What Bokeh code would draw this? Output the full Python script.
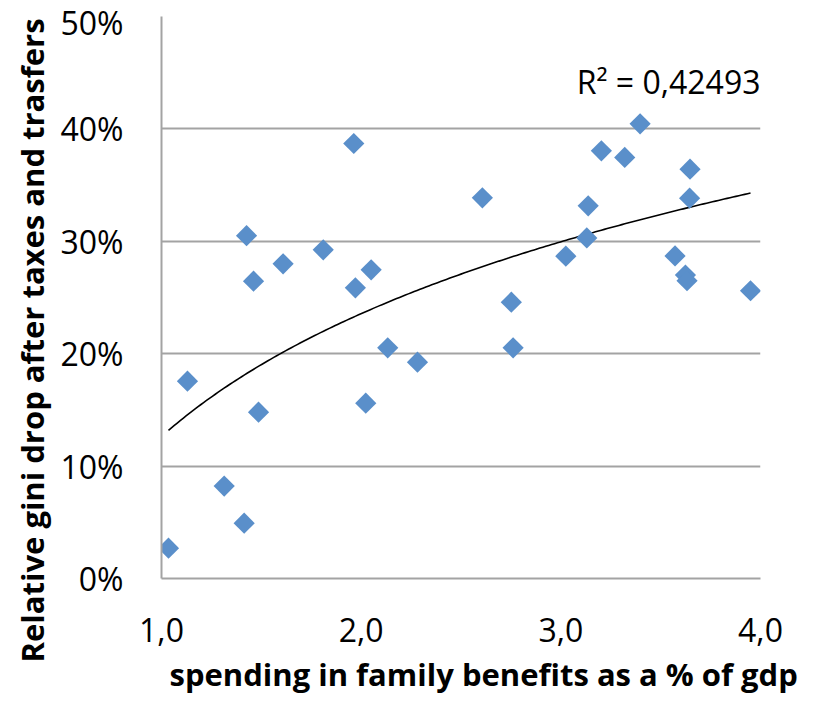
import numpy as np
from bokeh.plotting import figure
from bokeh.models import Range1d, FixedTicker, CustomJSTickFormatter, Label, Title
from bokeh.embed import file_html
from bokeh.resources import INLINE

# data: spending in family benefits (% of GDP) vs relative gini drop
spending = [1.035, 1.13, 1.314, 1.414, 1.426, 1.461, 1.486, 1.609, 1.81, 1.963,
            1.971, 2.023, 2.05, 2.133, 2.282, 2.607, 2.752, 2.761, 3.025, 3.13,
            3.137, 3.203, 3.32, 3.397, 3.572, 3.624, 3.632, 3.645, 3.647, 3.95]
gini_drop = [0.027, 0.1756, 0.0822, 0.0492, 0.305, 0.2645, 0.148, 0.280, 0.2924, 0.387,
             0.2586, 0.156, 0.2746, 0.2052, 0.1925, 0.3387, 0.2458, 0.2052, 0.2868, 0.303,
             0.3316, 0.3805, 0.3746, 0.4045, 0.287, 0.270, 0.2649, 0.3384, 0.3642, 0.256]
x_ticks = [1, 2, 3, 4]
y_ticks = [0, 0.1, 0.2, 0.3, 0.4, 0.5]
r2_text = "R² = 0,42493"
x_title = "spending in family benefits as a % of gdp"
y_title = "Relative gini drop after taxes and trasfers"

FONT = "Open Sans"
GRID = "#a3a3a3"

p = figure(width=817, height=702, output_backend="svg", toolbar_location=None,
           x_range=Range1d(1, 4), y_range=Range1d(0, 0.5),
           min_border_left=161, min_border_right=57, min_border_top=16,
           min_border_bottom=124)
p.outline_line_color = None
p.background_fill_color = "white"

for ax in (p.xaxis[0], p.yaxis[0]):
    ax.axis_line_color = GRID
    ax.axis_line_width = 2
    ax.major_tick_in = 0
    ax.major_tick_out = 0
    ax.minor_tick_in = 0
    ax.minor_tick_out = 0
    ax.major_label_text_font = FONT
    ax.major_label_text_font_size = "32px"
    ax.major_label_text_color = "black"

p.xaxis[0].ticker = FixedTicker(ticks=x_ticks)
p.xaxis[0].formatter = CustomJSTickFormatter(code="return tick.toFixed(1).replace('.', ',');")
p.xaxis[0].major_label_standoff = 39
p.yaxis[0].ticker = FixedTicker(ticks=y_ticks)
p.yaxis[0].formatter = CustomJSTickFormatter(code="return Math.round(tick*100) + '%';")
p.yaxis[0].major_label_standoff = 38

p.xgrid.visible = False
p.ygrid[0].ticker = FixedTicker(ticks=y_ticks)
p.ygrid.grid_line_color = GRID
p.ygrid.grid_line_width = 2

# logarithmic trend line fitted to the data
lx = np.log(np.array(spending))
a, b = np.polyfit(lx, np.array(gini_drop), 1)
xs = np.linspace(min(spending), max(spending), 200)
p.line(xs, a * np.log(xs) + b, line_color="black", line_width=1.6)

p.scatter(spending, gini_drop, marker="square", angle=np.pi / 4, size=15,
          fill_color="#5a8fca", line_color=None)

p.add_layout(Label(x=4.0, y=0.4422, text=r2_text, text_align="right",
                   text_baseline="alphabetic", text_font=FONT,
                   text_font_size="32px", text_color="black"))

p.add_layout(Title(text=x_title, align="left", offset=8, standoff=13,
                   text_font=FONT, text_font_style="bold",
                   text_font_size="31px", text_color="black"), "below")
p.add_layout(Title(text=y_title, align="left", offset=-84, standoff=10,
                   text_font=FONT, text_font_style="bold",
                   text_font_size="31px", text_color="black"), "left")

open("out.html", "w").write(file_html(p, INLINE))
